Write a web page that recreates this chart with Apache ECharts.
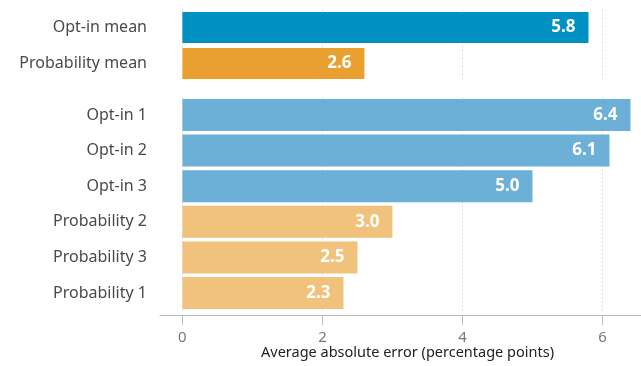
<!DOCTYPE html>
<html>
<head>
<meta charset="utf-8">
<script src="https://cdn.jsdelivr.net/npm/echarts@6/dist/echarts.min.js"></script>
<style>
  html, body { margin: 0; padding: 0; background: #fff; }
  #chart { width: 641px; height: 366px; }
</style>
</head>
<body>
<div id="chart"></div>
<script>
// Summary rows (means) shown in the upper panel
const meanCategories = ['Opt-in mean', 'Probability mean'];
const meanValues = [5.8, 2.6];

// Individual samples shown in the lower panel
const sampleCategories = ['Opt-in 1', 'Opt-in 2', 'Opt-in 3', 'Probability 2', 'Probability 3', 'Probability 1'];
const sampleValues = [6.4, 6.1, 5.0, 3.0, 2.5, 2.3];

// Tick positions on the value axis
const tickValues = [0, 2, 4, 6];

const FONT = '"Noto Sans", "Liberation Sans", sans-serif';

function colorFor(name, isMean) {
  const optIn = name.indexOf('Opt-in') === 0;
  if (isMean) return optIn ? '#0090C1' : '#E9A030';
  return optIn ? '#6DB0D7' : '#F0C27C';
}

function barItems(names, values, isMean) {
  return values.map((v, i) => ({
    value: v,
    itemStyle: { color: colorFor(names[i], isMean) }
  }));
}

const xRange = { min: -0.32, max: 6.55 };

const chart = echarts.init(document.getElementById('chart'), null, { renderer: 'canvas' });

const valueLabel = {
  show: true,
  position: 'insideRight',
  distance: 13,
  color: '#fff',
  fontFamily: FONT,
  fontWeight: 'bold',
  fontSize: 17,
  formatter: p => p.value.toFixed(1)
};

const categoryLabel = {
  color: '#4a4a4a',
  fontFamily: FONT,
  fontSize: 16,
  margin: 13,
  padding: [3, 0, 0, 0]
};

const split = { show: true, lineStyle: { color: '#dedede', type: [2, 2], width: 1 } };

chart.setOption({
  animation: false,
  grid: [
    { left: 160, right: 0, top: 9.5, height: 72, outerBoundsMode: 'none' },
    { left: 160, right: 0, top: 97.2, height: 213.6, outerBoundsMode: 'none' }
  ],
  xAxis: [
    {
      gridIndex: 0, type: 'value', min: xRange.min, max: xRange.max,
      axisLine: { show: false }, axisTick: { show: false, customValues: tickValues },
      axisLabel: { show: false, customValues: tickValues },
      splitLine: split
    },
    {
      gridIndex: 1, type: 'value', min: xRange.min, max: xRange.max, offset: 4,
      axisLine: { show: true, onZero: false, lineStyle: { color: '#bdbdbd', width: 1 } },
      axisTick: { show: true, length: 10, customValues: tickValues, lineStyle: { color: '#bdbdbd' } },
      axisLabel: { customValues: tickValues, color: '#777', fontFamily: FONT, fontSize: 15, margin: 15 },
      splitLine: split,
      name: 'Average absolute error (percentage points)',
      nameLocation: 'middle',
      nameGap: 31,
      nameMoveOverlap: false,
      nameTextStyle: { color: '#222', fontFamily: FONT, fontSize: 14.5, padding: [0, 0, 0, 14] }
    }
  ],
  yAxis: [
    {
      gridIndex: 0, type: 'category', data: meanCategories, inverse: true,
      axisLine: { show: false, onZero: false }, axisTick: { show: false },
      axisLabel: categoryLabel
    },
    {
      gridIndex: 1, type: 'category', data: sampleCategories, inverse: true,
      axisLine: { show: false, onZero: false }, axisTick: { show: false },
      axisLabel: categoryLabel
    }
  ],
  series: [
    {
      type: 'bar', xAxisIndex: 0, yAxisIndex: 0, barWidth: 31,
      data: barItems(meanCategories, meanValues, true),
      label: valueLabel
    },
    {
      type: 'bar', xAxisIndex: 1, yAxisIndex: 1, barWidth: 32,
      data: barItems(sampleCategories, sampleValues, false),
      label: valueLabel
    }
  ]
});
</script>
</body>
</html>
